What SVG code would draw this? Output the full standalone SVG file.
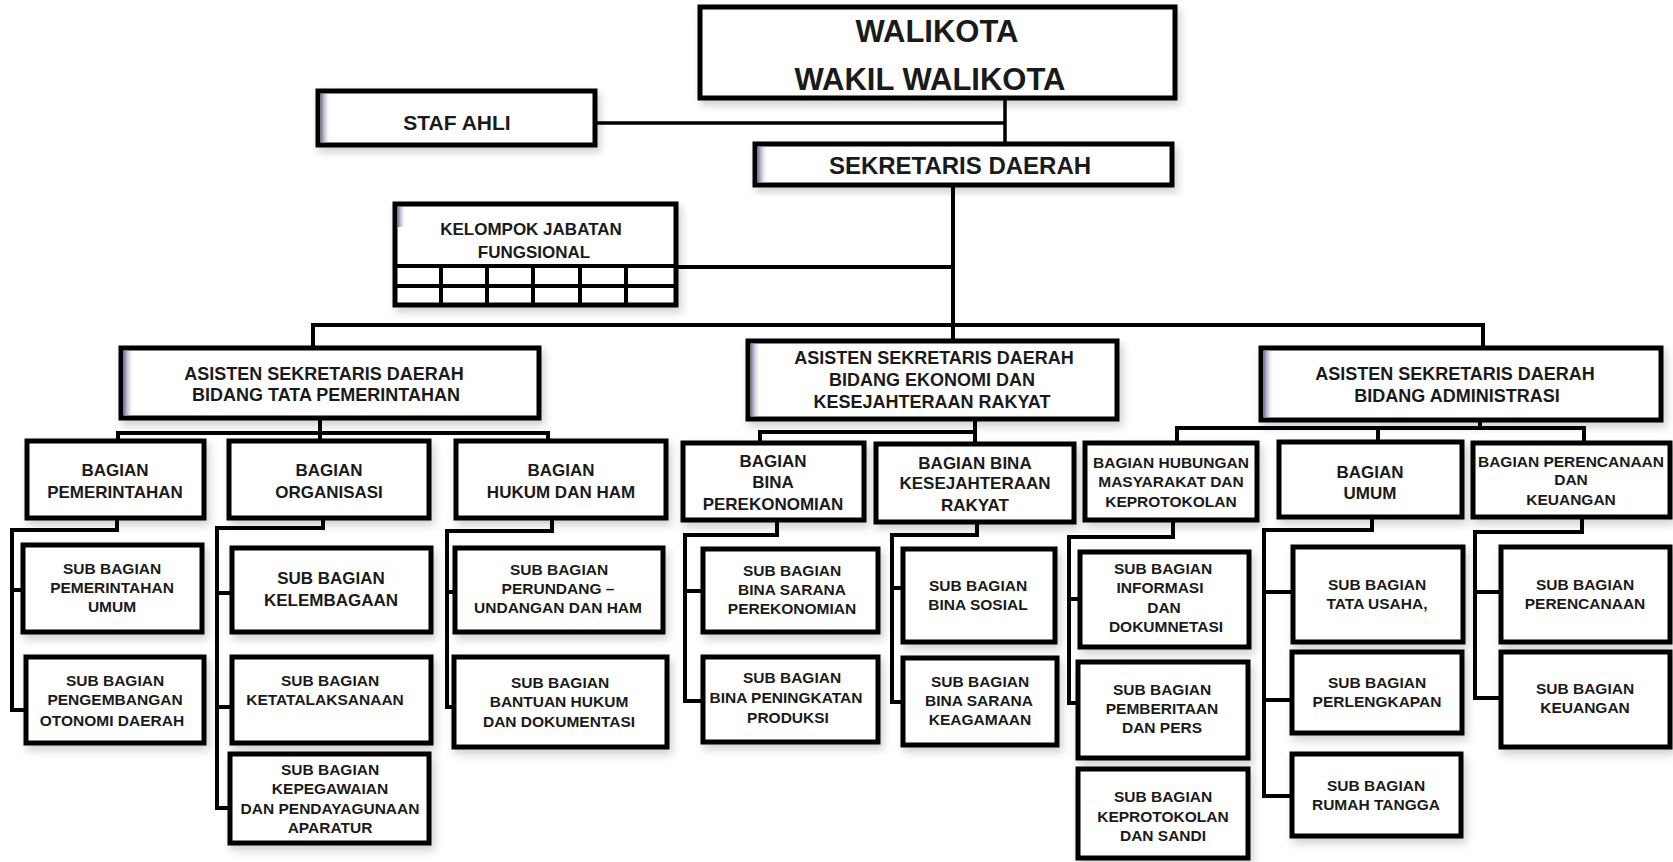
<svg xmlns="http://www.w3.org/2000/svg" width="1673" height="862" viewBox="0 0 1673 862">
<defs>
<filter id="sh" x="-10%" y="-10%" width="125%" height="135%">
<feDropShadow dx="3" dy="5" stdDeviation="4" flood-color="#000" flood-opacity="0.18"/>
</filter>
<linearGradient id="lg" x1="0" y1="0" x2="1" y2="0">
<stop offset="0" stop-color="#3a3a70" stop-opacity="0.7"/>
<stop offset="1" stop-color="#ffffff" stop-opacity="0"/>
</linearGradient>
</defs>
<style>
.box{fill:#fff;stroke:#000;stroke-width:5;filter:url(#sh)}
.box4{fill:#fff;stroke:#000;stroke-width:4;filter:url(#sh)}
.con{fill:none;stroke:#000;stroke-width:4}
.thin{fill:none;stroke:#000;stroke-width:3.5}
.edge{fill:url(#lg)}
text{font-family:"Liberation Sans",Arial,sans-serif;font-weight:bold;fill:#1a1a1a;text-anchor:middle}
.t15{font-size:15.5px}
.t17{font-size:17px}
.t18{font-size:18px}
.t21{font-size:21px}
.t24{font-size:24px}
.t31{font-size:31px}
</style>
<rect width="1673" height="862" fill="#fff"/>

<g id="connectors">
<path class="thin" d="M595 123H1005M1005 98V144"/>
<path class="con" d="M953 185V325M676 267H953"/>
<path class="con" d="M313 348V325H1483V348M953 325V341"/>
<path class="con" d="M320 418V433M118 441V433H548V441M320 433V441"/>
<path class="con" d="M975 419V444M760 443V432H975"/>
<path class="con" d="M1480 420V428M1177 443V428H1584V443M1378 428V442"/>
<path class="con" d="M117 518V530H12V710H26M12 590H23"/>
<path class="con" d="M323 518V528H217V808H230M217 593H232M217 707H232"/>
<path class="con" d="M552 518V531H447V707H454M447 592H455"/>
<path class="con" d="M777 520V535H685V701H703M685 591H703"/>
<path class="con" d="M977 522V535H892V702H903M892 588H903"/>
<path class="con" d="M1173 520V537H1069V703H1078M1069 599H1080"/>
<path class="con" d="M1372 517V530H1264V796H1292M1264 592H1293M1264 700H1292"/>
<path class="con" d="M1582 517V532H1475V698H1501M1475 592H1501"/>
</g>

<g id="walikota">
<rect class="box" x="700" y="7" width="475" height="91"/>
<text class="t31" x="937" y="42">WALIKOTA</text>
<text class="t31" x="930" y="90">WAKIL WALIKOTA</text>
</g>
<g id="staf-ahli">
<rect class="box" x="318" y="91" width="277" height="54"/>
<rect class="edge" x="321" y="94" width="10" height="48"/>
<text class="t21" x="457" y="130">STAF  AHLI</text>
</g>
<g id="sekda">
<rect class="box" x="755" y="144" width="417" height="41"/>
<rect class="edge" x="758" y="147" width="10" height="35"/>
<text class="t24" x="960" y="174">SEKRETARIS DAERAH</text>
</g>
<g id="kelompok">
<rect class="box" x="395" y="204" width="281" height="101"/>
<rect class="edge" x="398" y="207" width="8" height="20"/>
<path class="con" d="M395 266H676M395 286H676M441 266V305M487 266V305M533 266V305M580 266V305M626 266V305"/>
<text class="t17" x="531" y="235">KELOMPOK JABATAN</text>
<text class="t17" x="534" y="258">FUNGSIONAL</text>
</g>

<g id="asisten1">
<rect class="box" x="121" y="348" width="418" height="70"/>
<rect class="edge" x="124" y="351" width="10" height="64"/>
<text class="t18" x="324" y="380">ASISTEN SEKRETARIS DAERAH</text>
<text class="t18" x="326" y="401">BIDANG TATA PEMERINTAHAN</text>
</g>
<g id="asisten2">
<rect class="box" x="748" y="341" width="369" height="78"/>
<rect class="edge" x="751" y="344" width="10" height="72"/>
<text class="t18" x="934" y="364">ASISTEN SEKRETARIS DAERAH</text>
<text class="t18" x="932" y="386">BIDANG EKONOMI DAN</text>
<text class="t18" x="932" y="408">KESEJAHTERAAN  RAKYAT</text>
</g>
<g id="asisten3">
<rect class="box" x="1261" y="348" width="400" height="72"/>
<rect class="edge" x="1264" y="351" width="10" height="66"/>
<text class="t18" x="1455" y="380">ASISTEN SEKRETARIS DAERAH</text>
<text class="t18" x="1457" y="402">BIDANG ADMINISTRASI</text>
</g>

<g id="bag-pemerintahan">
<rect class="box" x="27" y="441" width="177" height="77"/>
<text class="t17" x="115" y="476">BAGIAN</text>
<text class="t17" x="115" y="498">PEMERINTAHAN</text>
</g>
<g id="bag-organisasi">
<rect class="box" x="229" y="441" width="200" height="77"/>
<text class="t17" x="329" y="476">BAGIAN</text>
<text class="t17" x="329" y="498">ORGANISASI</text>
</g>
<g id="bag-hukum">
<rect class="box" x="456" y="441" width="210" height="77"/>
<text class="t17" x="561" y="476">BAGIAN</text>
<text class="t17" x="561" y="498">HUKUM DAN HAM</text>
</g>
<g id="bag-perekonomian">
<rect class="box" x="683" y="443" width="181" height="77"/>
<text class="t17" x="773" y="467">BAGIAN</text>
<text class="t17" x="773" y="488">BINA</text>
<text class="t17" x="773" y="510">PEREKONOMIAN</text>
</g>
<g id="bag-kesra">
<rect class="box" x="876" y="444" width="198" height="78"/>
<text class="t17" x="975" y="469">BAGIAN BINA</text>
<text class="t17" x="975" y="489">KESEJAHTERAAN</text>
<text class="t17" x="975" y="511">RAKYAT</text>
</g>
<g id="bag-humas">
<rect class="box" x="1085" y="443" width="172" height="77"/>
<text class="t15" x="1171" y="468">BAGIAN HUBUNGAN</text>
<text class="t15" x="1171" y="487">MASYARAKAT DAN</text>
<text class="t15" x="1171" y="507">KEPROTOKOLAN</text>
</g>
<g id="bag-umum">
<rect class="box" x="1279" y="442" width="183" height="75"/>
<text class="t17" x="1370" y="478">BAGIAN</text>
<text class="t17" x="1370" y="499">UMUM</text>
</g>
<g id="bag-perencanaan">
<rect class="box" x="1473" y="443" width="197" height="74"/>
<text class="t15" x="1571" y="467">BAGIAN PERENCANAAN</text>
<text class="t15" x="1571" y="485">DAN</text>
<text class="t15" x="1571" y="505">KEUANGAN</text>
</g>

<g id="sub-pem-umum">
<rect class="box" x="23" y="545" width="179" height="87"/>
<text class="t15" x="112" y="574">SUB BAGIAN</text>
<text class="t15" x="112" y="593">PEMERINTAHAN</text>
<text class="t15" x="112" y="612">UMUM</text>
</g>
<g id="sub-otonomi">
<rect class="box" x="26" y="657" width="178" height="86"/>
<text class="t15" x="115" y="686">SUB BAGIAN</text>
<text class="t15" x="115" y="705">PENGEMBANGAN</text>
<text class="t15" x="112" y="726">OTONOMI DAERAH</text>
</g>
<g id="sub-kelembagaan">
<rect class="box" x="232" y="548" width="199" height="84"/>
<text class="t17" x="331" y="584">SUB BAGIAN</text>
<text class="t17" x="331" y="606">KELEMBAGAAN</text>
</g>
<g id="sub-ketatalaksanaan">
<rect class="box" x="232" y="657" width="199" height="86"/>
<text class="t15" x="330" y="686">SUB BAGIAN</text>
<text class="t15" x="325" y="705">KETATALAKSANAAN</text>
</g>
<g id="sub-kepegawaian">
<rect class="box" x="230" y="754" width="199" height="89"/>
<text class="t15" x="330" y="775">SUB BAGIAN</text>
<text class="t15" x="330" y="794">KEPEGAWAIAN</text>
<text class="t15" x="330" y="814">DAN PENDAYAGUNAAN</text>
<text class="t15" x="330" y="833">APARATUR</text>
</g>
<g id="sub-perundangan">
<rect class="box" x="455" y="548" width="208" height="84"/>
<text class="t15" x="559" y="575">SUB BAGIAN</text>
<text class="t15" x="558" y="594">PERUNDANG –</text>
<text class="t15" x="558" y="613">UNDANGAN DAN HAM</text>
</g>
<g id="sub-bantuan-hukum">
<rect class="box" x="454" y="657" width="213" height="90"/>
<text class="t15" x="560" y="688">SUB BAGIAN</text>
<text class="t15" x="559" y="707">BANTUAN HUKUM</text>
<text class="t15" x="559" y="727">DAN DOKUMENTASI</text>
</g>
<g id="sub-sarana-ekonomi">
<rect class="box" x="703" y="549" width="175" height="83"/>
<text class="t15" x="792" y="576">SUB BAGIAN</text>
<text class="t15" x="792" y="595">BINA SARANA</text>
<text class="t15" x="792" y="614">PEREKONOMIAN</text>
</g>
<g id="sub-produksi">
<rect class="box" x="703" y="657" width="175" height="85"/>
<text class="t15" x="792" y="683">SUB BAGIAN</text>
<text class="t15" x="786" y="703">BINA PENINGKATAN</text>
<text class="t15" x="788" y="723">PRODUKSI</text>
</g>
<g id="sub-sosial">
<rect class="box" x="903" y="549" width="152" height="93"/>
<text class="t15" x="978" y="591">SUB BAGIAN</text>
<text class="t15" x="978" y="610">BINA SOSIAL</text>
</g>
<g id="sub-keagamaan">
<rect class="box" x="903" y="658" width="154" height="87"/>
<text class="t15" x="980" y="687">SUB BAGIAN</text>
<text class="t15" x="979" y="706">BINA SARANA</text>
<text class="t15" x="980" y="725">KEAGAMAAN</text>
</g>
<g id="sub-informasi">
<rect class="box" x="1080" y="552" width="169" height="95"/>
<text class="t15" x="1163" y="574">SUB BAGIAN</text>
<text class="t15" x="1160" y="593">INFORMASI</text>
<text class="t15" x="1164" y="613">DAN</text>
<text class="t15" x="1166" y="632">DOKUMNETASI</text>
</g>
<g id="sub-pemberitaan">
<rect class="box" x="1078" y="662" width="170" height="96"/>
<text class="t15" x="1162" y="695">SUB BAGIAN</text>
<text class="t15" x="1162" y="714">PEMBERITAAN</text>
<text class="t15" x="1162" y="733">DAN PERS</text>
</g>
<g id="sub-keprotokolan">
<rect class="box" x="1078" y="769" width="170" height="89"/>
<text class="t15" x="1163" y="802">SUB BAGIAN</text>
<text class="t15" x="1163" y="822">KEPROTOKOLAN</text>
<text class="t15" x="1163" y="841">DAN SANDI</text>
</g>
<g id="sub-tata-usaha">
<rect class="box" x="1293" y="547" width="170" height="95"/>
<text class="t15" x="1377" y="590">SUB BAGIAN</text>
<text class="t15" x="1377" y="609">TATA USAHA,</text>
</g>
<g id="sub-perlengkapan">
<rect class="box" x="1292" y="652" width="170" height="81"/>
<text class="t15" x="1377" y="688">SUB BAGIAN</text>
<text class="t15" x="1377" y="707">PERLENGKAPAN</text>
</g>
<g id="sub-rumah-tangga">
<rect class="box" x="1292" y="754" width="169" height="82"/>
<text class="t15" x="1376" y="791">SUB BAGIAN</text>
<text class="t15" x="1376" y="810">RUMAH TANGGA</text>
</g>
<g id="sub-perencanaan">
<rect class="box" x="1501" y="547" width="169" height="95"/>
<text class="t15" x="1585" y="590">SUB BAGIAN</text>
<text class="t15" x="1585" y="609">PERENCANAAN</text>
</g>
<g id="sub-keuangan">
<rect class="box" x="1501" y="652" width="169" height="95"/>
<text class="t15" x="1585" y="694">SUB BAGIAN</text>
<text class="t15" x="1585" y="713">KEUANGAN</text>
</g>
</svg>
